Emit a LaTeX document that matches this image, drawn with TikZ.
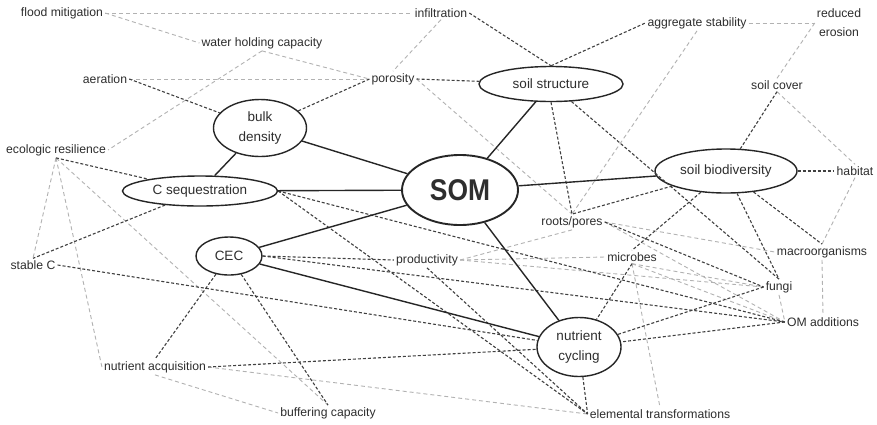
\documentclass[tikz,border=0pt]{standalone}
\usepackage{fontspec}
\setmainfont{Liberation Sans}
\usetikzlibrary{shapes.geometric}
\begin{document}
\begin{tikzpicture}[x=1pt,y=-1pt,
  lbl/.style={font=\fontsize{12.2}{19}\selectfont, inner sep=2pt, text=black!82, align=center},
  ell/.style={ellipse, draw=black!85, line width=1.4pt, inner sep=0pt, fill=white,
              font=\fontsize{13.5}{20}\selectfont, text=black!82, align=center},
  solidc/.style={draw=black!85, line width=1.4pt},
  darkc/.style={draw=black!75, line width=1.1pt, dash pattern=on 3pt off 2pt},
  grayc/.style={draw=black!30, line width=0.9pt, dash pattern=on 4pt off 3pt}]
\fill[white] (0,0) rectangle (877,424);
\useasboundingbox (0,0) rectangle (877,424);
% ellipses
\node[ell, line width=1.9pt, minimum width=116pt, minimum height=70pt] (som) at (460,190)
  {\scalebox{0.88}[1]{\fontsize{30}{30}\selectfont\bfseries SOM}};
\node[ell, minimum width=93pt, minimum height=57pt] (bulk) at (260,128) {bulk\\density};
\node[ell, minimum width=155pt, minimum height=30pt] (cseq) at (200,191) {C sequestration};
\node[ell, minimum width=66pt, minimum height=38pt] (cec) at (229,256) {CEC};
\node[ell, minimum width=144pt, minimum height=35pt] (struct) at (551,84) {soil structure};
\node[ell, minimum width=142pt, minimum height=44pt] (biodiv) at (726,171) {soil biodiversity};
\node[ell, minimum width=84pt, minimum height=59pt] (cycling) at (579,347) {nutrient\\cycling};
% labels
\node[lbl] (flood) at (62,13) {flood mitigation};
\node[lbl] (whc) at (262,43) {water holding capacity};
\node[lbl] (aeration) at (105,79) {aeration};
\node[lbl] (ecores) at (56,150) {ecologic resilience};
\node[lbl] (stablec) at (33,265) {stable C};
\node[lbl] (nutacq) at (155,367) {nutrient acquisition};
\node[lbl] (buffer) at (328,413) {buffering capacity};
\node[lbl] (infil) at (441,13) {infiltration};
\node[lbl] (porosity) at (393,79) {porosity};
\node[lbl] (aggstab) at (697,23) {aggregate stability};
\node[lbl] (erosion) at (839,23) {reduced\\erosion};
\node[lbl] (soilcover) at (777,85) {soil cover};
\node[lbl] (habitat) at (855,171) {habitat};
\node[lbl] (roots) at (572,222) {roots/pores};
\node[lbl] (prod) at (427,260) {productivity};
\node[lbl] (microbes) at (632,257) {microbes};
\node[lbl] (macro) at (822,252) {macroorganisms};
\node[lbl] (fungi) at (779,287) {fungi};
\node[lbl] (omadd) at (823,322) {OM additions};
\node[lbl] (elemtr) at (660,414) {elemental transformations};
% gray dashed connectors
\draw[grayc] (flood.east) -- (infil.west);
\draw[grayc] (flood.east) -- (whc.west);
\draw[grayc] (whc.south) -- (porosity.west);
\draw[grayc] (whc.south) -- (ecores.east);
\draw[grayc] (aeration.east) -- (porosity.west);
\draw[grayc] (infil.south) -- (porosity.north);
\draw[grayc] (porosity.east) -- (roots.north);
\draw[grayc] (aggstab.south) -- (roots.north);
\draw[grayc] (aggstab.east) -- (erosion.west);
\draw[grayc] (erosion.west) -- (soilcover.north);
\draw[grayc] (soilcover.south) -- (habitat.north);
\draw[grayc] (habitat.south) -- (macro.north);
\draw[grayc] (macro.south) -- (omadd.north);
\draw[grayc] (fungi.south) -- (omadd.west);
\draw[grayc] (microbes.south) -- (elemtr.north);
\draw[grayc] (microbes.south) -- (fungi.west);
\draw[grayc] (microbes.south) -- (omadd.west);
\draw[grayc] (prod.east) -- (microbes.west);
\draw[grayc] (prod.east) -- (roots.south);
\draw[grayc] (prod.east) -- (fungi.west);
\draw[grayc] (roots.east) -- (macro.west);
\draw[grayc] (roots.east) -- (omadd.west);
\draw[grayc] (ecores.south) -- (stablec.north);
\draw[grayc] (ecores.south) -- (nutacq.west);
\draw[grayc] (ecores.south) -- (buffer.north);
\draw[grayc] (nutacq.south) -- (buffer.west);
\draw[grayc] (nutacq.east) -- (elemtr.west);
% dark dashed connectors
\draw[darkc] (aeration.east) -- (bulk);
\draw[darkc] (bulk) -- (porosity.west);
\draw[darkc] (porosity.east) -- (struct);
\draw[darkc] (infil.east) -- (struct.north);
\draw[darkc] (struct.north) -- (aggstab.west);
\draw[darkc] (ecores.south) -- (cseq);
\draw[darkc] (cseq) -- (stablec.north);
\draw[darkc] (stablec.east) -- (cycling);
\draw[darkc] (cec.east) -- (prod.west);
\draw[darkc] (cec.east) -- (omadd.west);
\draw[darkc] (cec) -- (nutacq.north);
\draw[darkc] (cec) -- (buffer.north);
\draw[darkc] (cseq.east) -- (omadd.west);
\draw[darkc] (cseq.east) -- (elemtr.west);
\draw[darkc] (prod.south) -- (elemtr.west);
\draw[darkc] (nutacq.east) -- (cycling);
\draw[darkc] (cycling) -- (elemtr.west);
\draw[darkc] (microbes.south) -- (cycling);
\draw[darkc] (biodiv) -- (microbes.north);
\draw[darkc] (biodiv) -- (roots.north);
\draw[darkc] (struct.south) -- (roots.north);
\draw[darkc] (struct) -- (fungi.north);
\draw[darkc] (soilcover.south) -- (biodiv);
\draw[darkc] (biodiv) -- (habitat.west);
\draw[darkc] (biodiv) -- (macro.north);
\draw[darkc] (biodiv) -- (fungi.north);
\draw[darkc] (fungi.west) -- (cycling);
\draw[darkc] (omadd.west) -- (cycling);
\draw[darkc] (roots.east) -- (fungi.west);
% solid connectors
\draw[solidc] (som) -- (bulk);
\draw[solidc] (som) -- (struct);
\draw[solidc] (som) -- (biodiv);
\draw[solidc] (som) -- (cseq);
\draw[solidc] (som) -- (cec);
\draw[solidc] (som) -- (cycling);
\draw[solidc] (bulk) -- (cseq);
\draw[solidc] (cec) -- (cycling);
\end{tikzpicture}
\end{document}
